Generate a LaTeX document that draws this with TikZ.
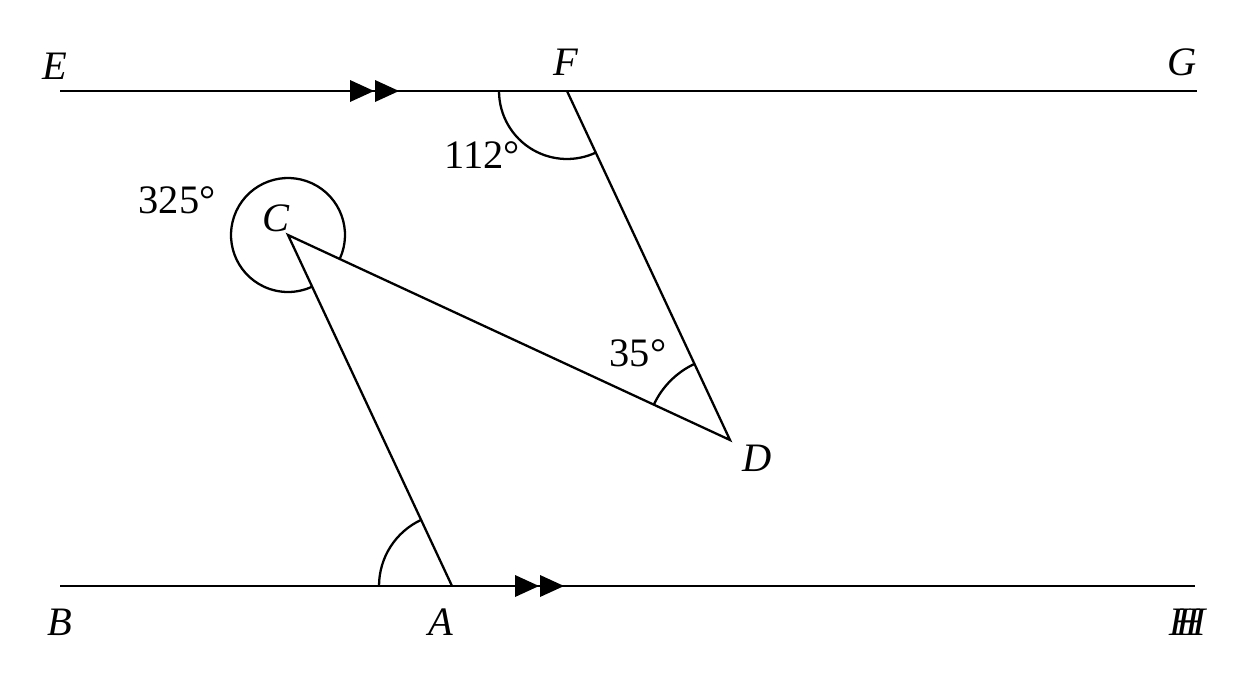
\documentclass[tikz,border=0pt]{standalone}
\usepackage{fontspec}
\setmainfont{Liberation Serif}
\begin{document}
\begin{tikzpicture}[x=0.02cm,y=-0.02cm, line width=1.3pt,
  lbl/.style={font=\fontsize{23}{27}\selectfont\itshape, inner sep=0pt},
  ang/.style={font=\fontsize{23}{27}\selectfont, inner sep=0pt}]
    % Bounding box
    \useasboundingbox (0,0) rectangle (1257,677);

    % Points
    \coordinate (E) at (60,91);
    \coordinate (F) at (567,91);
    \coordinate (G) at (1197,91);
    \coordinate (B) at (60,586);
    \coordinate (A) at (452,586);
    \coordinate (H) at (1195,586);
    \coordinate (C) at (288,235);
    \coordinate (D) at (730,440);

    % Lines
    \draw (E) -- (G);
    \draw (B) -- (H);
    \draw (F) -- (D) -- (C) -- (A);

    % Parallel marks
    \foreach \x/\y in {350/91,375/91,515/586,540/586}
        \fill (\x,\y-11) -- (\x+24,\y) -- (\x,\y+11) -- cycle;

    % Angle arcs
    \draw ([shift={(180:1.36cm)}]F) arc[start angle=180, end angle=295, radius=1.36cm];
    \draw ([shift={(-24.9:1.14cm)}]C) arc[start angle=-24.9, end angle=295, radius=1.14cm];
    \draw ([shift={(115:1.68cm)}]D) arc[start angle=115, end angle=155.1, radius=1.68cm];
    \draw ([shift={(115:1.46cm)}]A) arc[start angle=115, end angle=180, radius=1.46cm];

    % Labels
    \node[lbl] (lE) at (55,66) {E};
    \node[lbl] (lF) at (566,62) {F};
    \node[lbl] (lG) at (1182,62) {G};
    \node[lbl] (lB) at (60,622) {B};
    \node[lbl] (lA) at (441,622) {A};
    \node[lbl] (lH) at (1188,622) {H\kern-0.55em H};
    \node[lbl] (lC) at (276,218) {C};
    \node[lbl] (lD) at (757,458) {D};
    \node[ang] (a1) at (482,155) {112°};
    \node[ang] (a2) at (177,200) {325°};
    \node[ang] (a3) at (638,353) {35°};
\end{tikzpicture}
\end{document}
